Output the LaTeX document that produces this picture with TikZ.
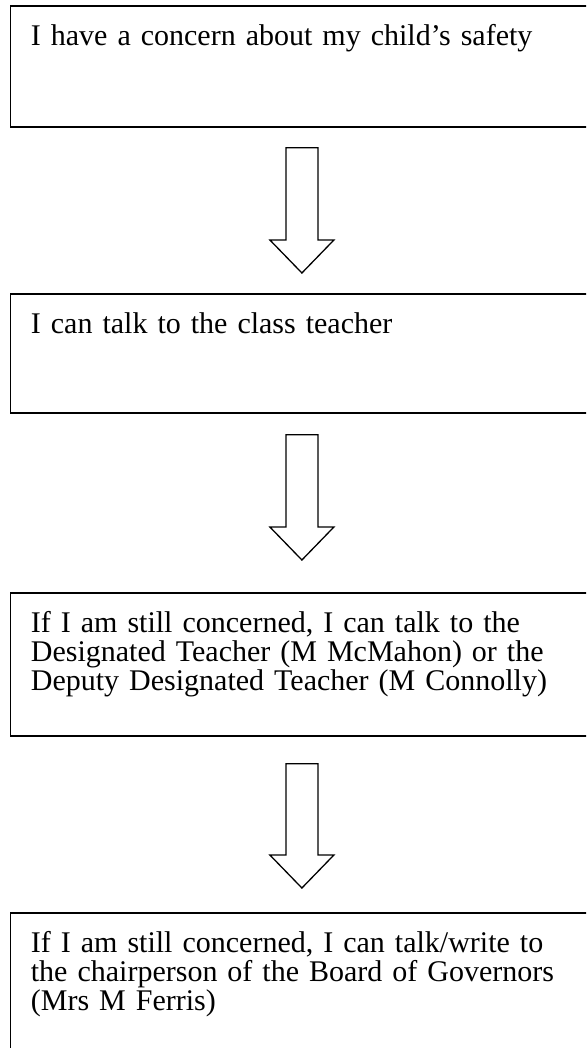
\documentclass[tikz,border=0pt]{standalone}
\usepackage{fontspec}
\setmainfont{Liberation Serif}
\usetikzlibrary{positioning,calc}
\lineskiplimit=-100pt

\begin{document}
\begin{tikzpicture}[
  x=1pt, y=1pt,
  flow box/.style={
    draw,
    line width=1.8pt,
    anchor=north west,
    inner xsep=20.5pt,
    inner ysep=0pt,
    text width=542pt,
    align=left,
    text height=39.5pt,
    font=\fontsize{30}{29}\selectfont,
  },
  hollow arrow/.style={
    draw,
    line width=1.3pt,
    line join=miter,
  },
  ]
  \useasboundingbox (0,0) rectangle (586,-1048);
  \clip (0,0) rectangle (586,-1048);

  \node[flow box,text depth=81.5pt] (concern) at (9.5,-5)
  {I have a concern about my child’s safety};
  \node[flow box,text depth=79.5pt] (class-teacher) at (9.5,-293)
  {I can talk to the class teacher};
  \node[flow box,text depth=103.5pt] (designated) at (9.5,-592)
  {If I am still concerned, I can talk to the Designated Teacher (M McMahon) or the Deputy Designated Teacher (M Connolly)};
  \node[flow box,text depth=150pt] (governors) at (9.5,-912)
  {If I am still concerned, I can talk/write to the chairperson of the Board of Governors (Mrs M Ferris)};

  \foreach \from/\to/\gtop/\gbot in {concern/class-teacher/20/20,
    class-teacher/designated/21/32, designated/governors/27/24} {
    \coordinate[below=\gtop pt of \from.south] (\from-top);
    \coordinate[above=\gbot pt of \to.north] (\to-tip);
    \draw[hollow arrow] ($(\from-top)+(-16,0)$) -- ($(\to-tip)+(-16,33)$)
      -- ++(-16,0) -- (\to-tip) -- ++(32,33) -- ++(-16,0)
      -- ($(\from-top)+(16,0)$) -- cycle;
  }
\end{tikzpicture}
\end{document}
